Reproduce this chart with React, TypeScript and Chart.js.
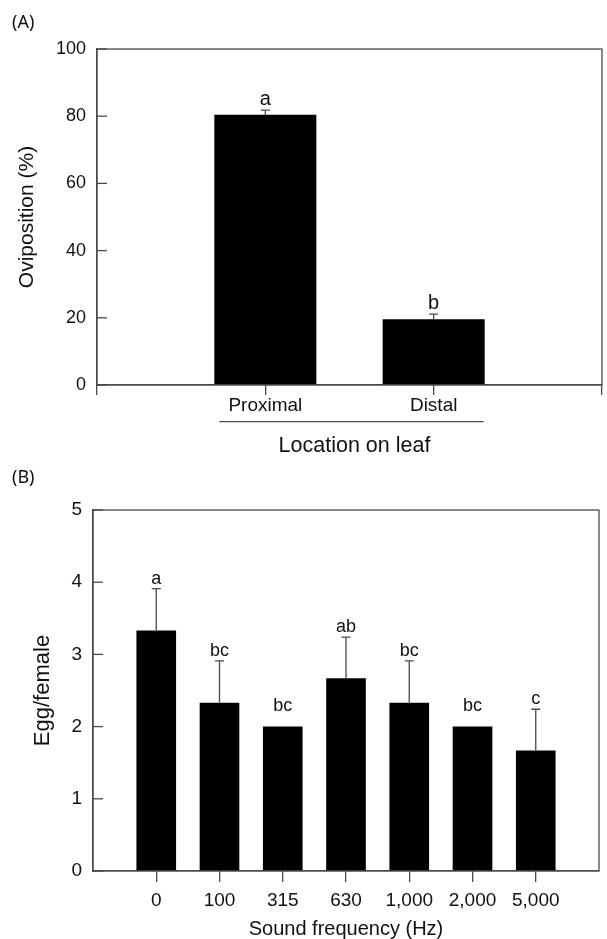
import React, { useEffect, useRef } from 'react';
import { Chart, registerables } from 'chart.js';

Chart.register(...registerables);

// ---------- Panel A data ----------
const locationLabels = ['', 'Proximal', 'Distal', ''];
const ovipositionValues: (number | null)[] = [null, 80.4, 19.6, null];
const ovipositionErrors: (number | null)[] = [null, 1.4, 1.5, null];
const ovipositionLetters = ['', 'a', 'b', ''];
const ovipositionTicks = [0, 20, 40, 60, 80, 100];

// ---------- Panel B data ----------
const frequencyLabels = ['', '0', '100', '315', '630', '1,000', '2,000', '5,000', ''];
const eggValues: (number | null)[] = [null, 3.33, 2.33, 2.0, 2.67, 2.33, 2.0, 1.67, null];
const eggErrors: (number | null)[] = [null, 0.58, 0.58, 0, 0.57, 0.58, 0, 0.57, null];
const eggLetters = ['', 'a', 'bc', 'bc', 'ab', 'bc', 'bc', 'c', ''];
const eggTicks = [0, 1, 2, 3, 4, 5];

const FONT = '"Liberation Sans", Arial, Helvetica, sans-serif';
const TEXT = '#111';
const AXIS = '#4a4a4a';

Chart.defaults.font.family = FONT;
Chart.defaults.color = TEXT;

type DecorOpts = {
  values: (number | null)[];
  errors: (number | null)[];
  letters: string[];
  letterSize: number;
  gapWithErr: number;
  gapNoErr: number;
  tickLen: number;
  extra?: (chart: any) => void;
};

function decorPlugin(o: DecorOpts) {
  return {
    id: 'panelDecor',
    afterDraw(chart: any) {
      const ctx = chart.ctx as CanvasRenderingContext2D;
      const { left, right, top, bottom } = chart.chartArea;
      const y = chart.scales.y;
      ctx.save();
      ctx.strokeStyle = AXIS;
      ctx.lineWidth = 1.3;
      ctx.strokeRect(left, top, right - left, bottom - top);
      // inward y ticks
      y.ticks.forEach((t: any) => {
        const py = y.getPixelForValue(t.value);
        ctx.beginPath();
        ctx.moveTo(left, py);
        ctx.lineTo(left + o.tickLen, py);
        ctx.stroke();
      });
      // error bars + letters
      const meta = chart.getDatasetMeta(0);
      meta.data.forEach((bar: any, i: number) => {
        const v = o.values[i];
        if (v == null) return;
        const e = o.errors[i] || 0;
        const px = bar.x;
        const yTop = y.getPixelForValue(v);
        const yCap = y.getPixelForValue(v + e);
        if (e > 0) {
          ctx.strokeStyle = AXIS;
          ctx.lineWidth = 1.3;
          ctx.beginPath();
          ctx.moveTo(px, yTop);
          ctx.lineTo(px, yCap);
          ctx.moveTo(px - 4.5, yCap);
          ctx.lineTo(px + 4.5, yCap);
          ctx.stroke();
        }
        const txt = o.letters[i];
        if (txt) {
          ctx.fillStyle = TEXT;
          ctx.font = `${o.letterSize}px ${FONT}`;
          ctx.textAlign = 'center';
          ctx.textBaseline = 'alphabetic';
          const by = e > 0 ? yCap - o.gapWithErr : yTop - o.gapNoErr;
          ctx.fillText(txt, px, by);
        }
      });
      if (o.extra) o.extra(chart);
      ctx.restore();
    },
  };
}

function PanelA() {
  const ref = useRef<HTMLCanvasElement>(null);
  useEffect(() => {
    if (!ref.current) return;
    const chart = new Chart(ref.current, {
      type: 'bar',
      data: {
        labels: locationLabels,
        datasets: [
          {
            data: ovipositionValues as any,
            backgroundColor: '#000',
            borderWidth: 0,
            categoryPercentage: 1,
            barPercentage: 0.606,
          },
        ],
      },
      options: {
        responsive: false,
        animation: false,
        events: [],
        layout: { padding: { top: 49, right: 5, left: 0, bottom: 0 } },
        plugins: { legend: { display: false }, tooltip: { enabled: false } },
        scales: {
          x: {
            type: 'category',
            offset: false,
            grid: { offset: false, drawOnChartArea: false, drawTicks: true, tickLength: 10, color: AXIS, lineWidth: 1.3 },
            border: { display: true, color: AXIS, width: 1.3 },
            ticks: { font: { size: 19, lineHeight: 1.1 }, color: TEXT, padding: 0, maxRotation: 0, autoSkip: false },
            afterFit: (s: any) => {
              s.height = 70;
            },
          },
          y: {
            min: 0,
            max: 100,
            afterBuildTicks: (s: any) => {
              s.ticks = ovipositionTicks.map((v) => ({ value: v }));
            },
            ticks: { font: { size: 18 }, color: TEXT, padding: 11 },
            grid: { drawOnChartArea: false, drawTicks: false },
            border: { display: true, color: AXIS, width: 1.3 },
            title: {
              display: true,
              text: 'Oviposition (%)',
              color: TEXT,
              font: { size: 21, lineHeight: 1.2 },
              padding: { top: 14.5, bottom: 0 },
            },
            afterFit: (s: any) => {
              s.width = 97;
            },
          },
        },
      },
      plugins: [
        decorPlugin({
          values: ovipositionValues,
          errors: ovipositionErrors,
          letters: ovipositionLetters,
          letterSize: 20,
          gapWithErr: 5,
          gapNoErr: 15,
          tickLen: 10,
          extra: (c: any) => {
            const ctx = c.ctx as CanvasRenderingContext2D;
            const x = c.scales.x;
            const p1 = x.getPixelForValue(1);
            const p2 = x.getPixelForValue(2);
            const half = 51;
            const x1 = p1 - half + 5;
            const x2 = p2 + half - 1;
            ctx.strokeStyle = AXIS;
            ctx.lineWidth = 1.2;
            ctx.beginPath();
            ctx.moveTo(x1, 421.7);
            ctx.lineTo(x2, 421.7);
            ctx.stroke();
            ctx.fillStyle = TEXT;
            ctx.font = `21.5px ${FONT}`;
            ctx.textAlign = 'center';
            ctx.textBaseline = 'alphabetic';
            ctx.fillText('Location on leaf', (x1 + x2) / 2 + 3, 452);
          },
        }) as any,
      ],
    });
    return () => chart.destroy();
  }, []);
  return <canvas ref={ref} width={607} height={455} style={{ display: 'block' }} />;
}

function PanelB() {
  const ref = useRef<HTMLCanvasElement>(null);
  useEffect(() => {
    if (!ref.current) return;
    const chart = new Chart(ref.current, {
      type: 'bar',
      data: {
        labels: frequencyLabels,
        datasets: [
          {
            data: eggValues as any,
            backgroundColor: '#000',
            borderWidth: 0,
            categoryPercentage: 1,
            barPercentage: 0.627,
          },
        ],
      },
      options: {
        responsive: false,
        animation: false,
        events: [],
        layout: { padding: { top: 55, right: 4, left: 0, bottom: 0 } },
        plugins: { legend: { display: false }, tooltip: { enabled: false } },
        scales: {
          x: {
            type: 'category',
            offset: false,
            grid: {
              offset: false,
              drawOnChartArea: false,
              drawTicks: true,
              tickLength: 11,
              lineWidth: 1.3,
              color: AXIS,
              tickColor: (c: any) =>
                c.index === 0 || c.index === frequencyLabels.length - 1 ? 'rgba(0,0,0,0)' : AXIS,
            },
            border: { display: true, color: AXIS, width: 1.3 },
            ticks: { font: { size: 19, lineHeight: 1.1 }, color: TEXT, padding: 8, maxRotation: 0, autoSkip: false },
            title: {
              display: true,
              text: 'Sound frequency (Hz)',
              color: TEXT,
              font: { size: 20, lineHeight: 1.0 },
              padding: { top: 0, bottom: 0 },
            },
            afterFit: (s: any) => {
              s.height = 68;
            },
          },
          y: {
            min: 0,
            max: 5,
            afterBuildTicks: (s: any) => {
              s.ticks = eggTicks.map((v) => ({ value: v }));
            },
            ticks: { font: { size: 19 }, color: TEXT, padding: 11 },
            grid: { drawOnChartArea: false, drawTicks: false },
            border: { display: true, color: AXIS, width: 1.3 },
            title: {
              display: true,
              text: 'Egg/female',
              color: TEXT,
              font: { size: 22, lineHeight: 1.2 },
              padding: { top: 30, bottom: 0 },
            },
            afterFit: (s: any) => {
              s.width = 93;
            },
          },
        },
      },
      plugins: [
        decorPlugin({
          values: eggValues,
          errors: eggErrors,
          letters: eggLetters,
          letterSize: 18,
          gapWithErr: 5,
          gapNoErr: 15.5,
          tickLen: 10,
        }) as any,
      ],
    });
    return () => chart.destroy();
  }, []);
  return <canvas ref={ref} width={607} height={484} style={{ display: 'block' }} />;
}

const panelLabelStyle: React.CSSProperties = {
  position: 'absolute',
  left: 12,
  fontFamily: '"Noto Sans", "Open Sans", sans-serif',
  fontSize: 18,
  lineHeight: '20px',
  color: TEXT,
};

export default function App() {
  return (
    <div style={{ position: 'absolute', left: 0, top: 0, width: 607, height: 939, background: '#fff' }}>
      <div style={{ position: 'absolute', left: 0, top: 0 }}>
        <PanelA />
      </div>
      <div style={{ position: 'absolute', left: 0, top: 455 }}>
        <PanelB />
      </div>
      <div style={{ ...panelLabelStyle, top: 11 }}>(A)</div>
      <div style={{ ...panelLabelStyle, top: 466 }}>(B)</div>
    </div>
  );
}
